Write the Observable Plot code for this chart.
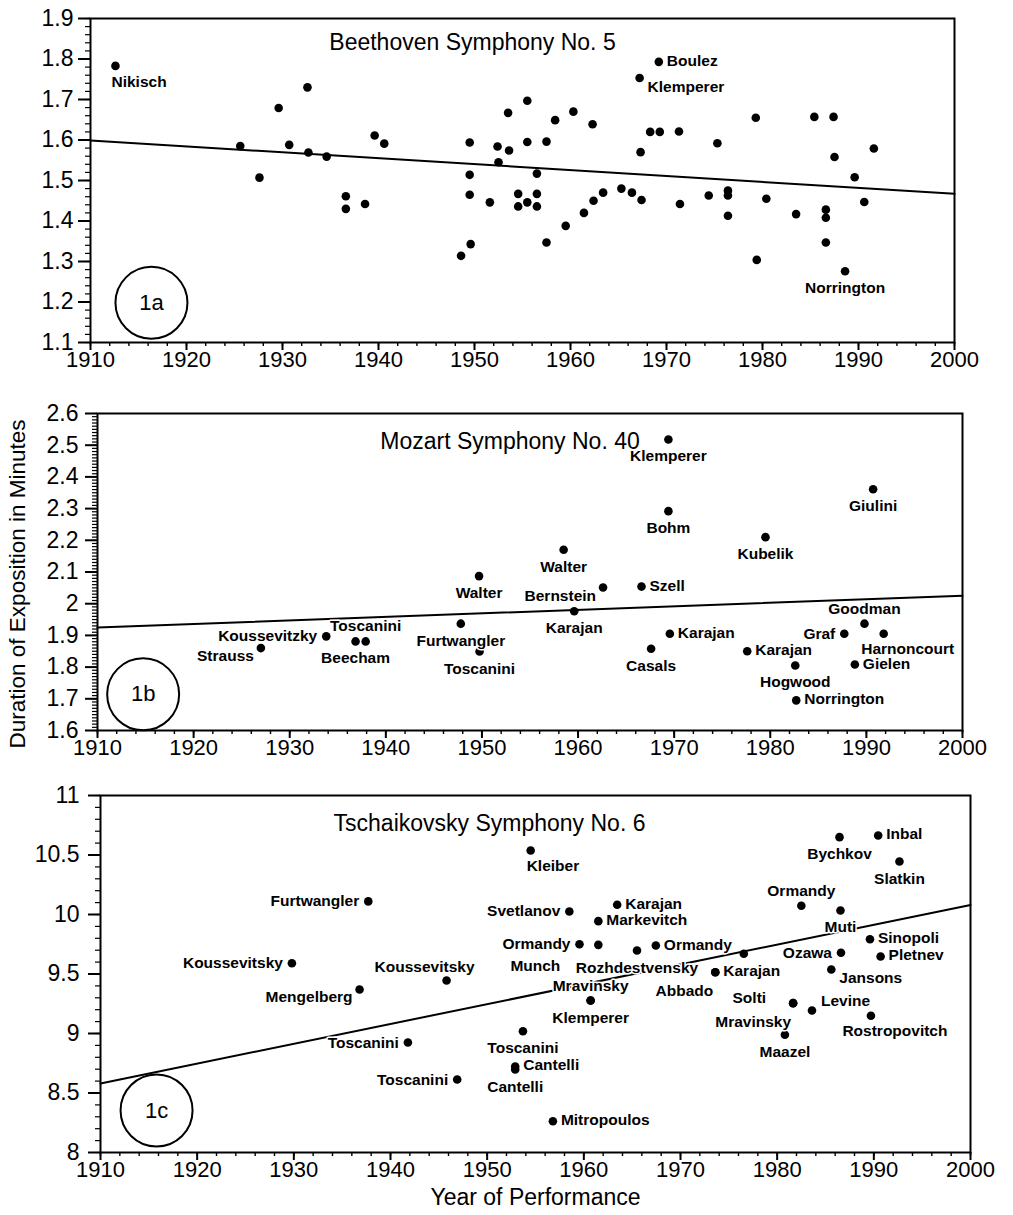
<!DOCTYPE html>
<html>
<head>
<meta charset="utf-8">
<script src="https://cdn.jsdelivr.net/npm/d3@7"></script>
<script src="https://cdn.jsdelivr.net/npm/@observablehq/plot@0.6"></script>
<style>
  body { margin: 0; background: #fff; }
  #wrap { position: relative; width: 1013px; height: 1215px; overflow: hidden; background: #fff; }
</style>
</head>
<body>
<div id="wrap"></div>
<script>
// ---------------- DATA ----------------
const yearTicks = [1910, 1920, 1930, 1940, 1950, 1960, 1970, 1980, 1990, 2000];
const beethovenTicks = [1.1, 1.2, 1.3, 1.4, 1.5, 1.6, 1.7, 1.8, 1.9];
const mozartTicks = [1.6, 1.7, 1.8, 1.9, 2.0, 2.1, 2.2, 2.3, 2.4, 2.5, 2.6];
const tchaikovskyTicks = [8, 8.5, 9, 9.5, 10, 10.5, 11];

const titles = ["Beethoven Symphony No. 5", "Mozart Symphony No. 40", "Tschaikovsky Symphony No. 6"];
const panelTags = ["1a", "1b", "1c"];
const yAxisTitle = "Duration of Exposition in Minutes";
const xAxisTitle = "Year of Performance";

// [year, minutes of exposition, conductor]
const beethoven = [
  [1912.6, 1.783, "Nikisch"], [1925.6, 1.585, ""], [1927.6, 1.507, ""], [1929.6, 1.679, ""],
  [1930.7, 1.588, ""], [1932.6, 1.730, ""], [1932.7, 1.569, ""], [1934.6, 1.559, ""],
  [1936.6, 1.461, ""], [1936.6, 1.430, ""], [1938.6, 1.442, ""], [1939.6, 1.611, ""],
  [1940.6, 1.591, ""], [1948.6, 1.314, ""], [1949.6, 1.343, ""], [1949.5, 1.594, ""],
  [1949.5, 1.514, ""], [1949.5, 1.465, ""], [1951.6, 1.446, ""], [1952.4, 1.584, ""],
  [1952.5, 1.545, ""], [1953.5, 1.667, ""], [1953.6, 1.574, ""], [1954.55, 1.467, ""],
  [1954.55, 1.436, ""], [1955.5, 1.697, ""], [1955.5, 1.595, ""], [1955.5, 1.446, ""],
  [1956.5, 1.517, ""], [1956.5, 1.467, ""], [1956.5, 1.436, ""], [1957.5, 1.596, ""],
  [1957.5, 1.347, ""], [1958.4, 1.649, ""], [1959.5, 1.388, ""], [1960.3, 1.670, ""],
  [1961.4, 1.420, ""], [1962.3, 1.639, ""], [1962.4, 1.450, ""], [1963.4, 1.470, ""],
  [1965.3, 1.480, ""], [1966.4, 1.470, ""], [1967.2, 1.753, "Klemperer"], [1967.3, 1.570, ""],
  [1967.4, 1.452, ""], [1968.3, 1.620, ""], [1969.2, 1.793, "Boulez"], [1969.3, 1.620, ""],
  [1971.3, 1.621, ""], [1971.4, 1.442, ""], [1974.4, 1.463, ""], [1975.3, 1.592, ""],
  [1976.4, 1.475, ""], [1976.4, 1.463, ""], [1976.4, 1.413, ""], [1979.3, 1.655, ""],
  [1979.4, 1.304, ""], [1980.4, 1.455, ""], [1983.5, 1.417, ""], [1985.4, 1.657, ""],
  [1986.6, 1.428, ""], [1986.6, 1.408, ""], [1986.6, 1.347, ""], [1987.4, 1.657, ""],
  [1987.5, 1.558, ""], [1988.6, 1.276, "Norrington"], [1989.6, 1.508, ""], [1990.6, 1.447, ""],
  [1991.6, 1.579, ""]
];
const beethovenTrend = [[1910, 1.599], [2000, 1.467]];

const mozart = [
  [1927.0, 1.860, "Strauss"], [1933.8, 1.897, "Koussevitzky"], [1936.85, 1.881, "Beecham"],
  [1937.9, 1.881, "Toscanini"], [1947.8, 1.937, "Furtwangler"], [1949.7, 2.087, "Walter"],
  [1949.75, 1.849, "Toscanini"], [1958.5, 2.170, "Walter"], [1959.6, 1.976, "Karajan"],
  [1962.6, 2.051, "Bernstein"], [1966.6, 2.054, "Szell"], [1969.4, 2.518, "Klemperer"],
  [1969.4, 2.292, "Bohm"], [1969.55, 1.905, "Karajan"], [1967.6, 1.858, "Casals"],
  [1977.6, 1.850, "Karajan"], [1979.5, 2.210, "Kubelik"], [1982.6, 1.805, "Hogwood"],
  [1982.7, 1.695, "Norrington"], [1987.7, 1.905, "Graf"], [1989.8, 1.937, "Goodman"],
  [1988.8, 1.808, "Gielen"], [1990.7, 2.361, "Giulini"], [1991.8, 1.905, "Harnoncourt"]
];
const mozartTrend = [[1910, 1.925], [2000, 2.025]];

const tchaikovsky = [
  [1937.7, 10.11, "Furtwangler"], [1929.8, 9.59, "Koussevitsky"], [1936.8, 9.37, "Mengelberg"],
  [1945.8, 9.445, "Koussevitsky"], [1941.8, 8.924, "Toscanini"], [1946.9, 8.613, "Toscanini"],
  [1954.5, 10.538, "Kleiber"], [1958.5, 10.025, "Svetlanov"], [1963.45, 10.082, "Karajan"],
  [1961.5, 9.944, "Markevitch"], [1959.55, 9.75, "Ormandy"], [1961.5, 9.745, "Munch"],
  [1965.5, 9.697, "Rozhdestvensky"], [1967.45, 9.739, "Ormandy"], [1976.55, 9.67, ""],
  [1973.6, 9.515, "Karajan"], [1973.6, 9.515, "Abbado"], [1960.7, 9.277, "Mravinsky"],
  [1960.7, 9.277, "Klemperer"], [1953.7, 9.019, "Toscanini"], [1952.9, 8.723, "Cantelli"],
  [1952.9, 8.697, "Cantelli"], [1956.8, 8.263, "Mitropoulos"], [1981.65, 9.255, "Solti"],
  [1981.65, 9.255, "Mravinsky"], [1980.8, 8.989, "Maazel"], [1983.6, 9.193, "Levine"],
  [1985.6, 9.538, "Jansons"], [1986.6, 9.678, "Ozawa"], [1986.55, 10.034, "Muti"],
  [1982.5, 10.073, "Ormandy"], [1986.45, 10.65, "Bychkov"], [1990.45, 10.664, "Inbal"],
  [1992.65, 10.445, "Slatkin"], [1989.6, 9.792, "Sinopoli"], [1990.7, 9.647, "Pletnev"],
  [1989.7, 9.149, "Rostropovitch"]
];
const tchaikovskyTrend = [[1910, 8.58], [2000, 10.08]];

// panel tag circle centres [year, minutes]
const tagCentres = [[1916.35, 1.198], [1914.75, 1.714], [1915.8, 8.353]];

// ---------------- LAYOUT ----------------
// label placement codes for the labelled points, in order of appearance
const beethovenSides = ["bs", "rb", "r", "b"];
const mozartSides = ["lb", "l", "b", "a", "b", "b", "b", "b", "b", "lb", "r", "b", "b", "r", "b",
  "r", "b", "b", "r", "l", "a", "r", "b", "bR"];
const tchaikovskySides = ["l", "l", "lb", "aL", "l", "l", "bs", "l", "r", "r", "l", "bw", "b", "r",
  "r", "bl", "a", "b", "b", "r", "b", "r", "lw", "bl", "b", "ra", "rb", "l", "b", "a", "b", "r",
  "b", "r", "r", "bR"];

const OFFS = {
  r: [8, -1, "start"], l: [-9, 0, "end"], b: [0, 17, "middle"], a: [0, -15, "middle"],
  rb: [8, 9, "start"], ra: [9, -10, "start"], lb: [-7, 8, "end"], bl: [-2, 19, "end"],
  bs: [-4, 16, "start"], bR: [24, 15, "middle"], aL: [-22, -14, "middle"],
  lw: [-27, -5, "end"], bw: [-38, 21, "end"]
};
const FONT = "'Liberation Sans', Arial, Helvetica, sans-serif";

function panel(cfg) {
  const rows = cfg.data.map(([year, minutes, conductor]) => ({year, minutes, conductor}));
  const labelled = rows.filter(d => d.conductor);
  labelled.forEach((d, i) => d.side = cfg.sides[i]);
  const fmt = d => String(+(+d).toFixed(1));
  const textMarks = Object.entries(OFFS).map(([code, [dx, dy, anchor]]) =>
    Plot.text(labelled.filter(d => d.side === code), {
      x: "year", y: "minutes", text: "conductor", dx, dy, textAnchor: anchor,
      fontSize: 15.5, fontWeight: "bold", fill: "black",
      stroke: "white", strokeWidth: 3, paintOrder: "stroke"
    }));
  const svg = Plot.plot({
    width: 1013, height: cfg.height,
    marginTop: cfg.mt, marginBottom: cfg.mb, marginLeft: cfg.ml, marginRight: cfg.mr,
    x: {domain: [1910, 2000]},
    y: {domain: cfg.yDomain},
    style: {background: "transparent", overflow: "visible", fontFamily: FONT, color: "black"},
    marks: [
      Plot.axisX({ticks: d3.range(1910, 2001, 2), tickSize: 4, tickFormat: () => "", label: null, strokeWidth: 1.4}),
      Plot.axisX({ticks: yearTicks, tickSize: 8, tickPadding: 1, tickFormat: d => String(d), fontSize: 22, label: null, strokeWidth: 2}),
      Plot.axisY({ticks: cfg.yMinor, tickSize: 5, tickFormat: () => "", label: null, strokeWidth: 1.2}),
      Plot.axisY({ticks: cfg.yTicks, tickSize: 12, tickPadding: cfg.yPad, tickFormat: fmt, fontSize: 23, label: null, strokeWidth: 2}),
      Plot.frame({stroke: "black", strokeWidth: 2}),
      Plot.line(cfg.trend, {x: d => d[0], y: d => d[1], stroke: "black", strokeWidth: 2}),
      Plot.dot([cfg.tagCentre], {x: d => d[0], y: d => d[1], r: 36, stroke: "black", strokeWidth: 2, fill: "none"}),
      Plot.text([cfg.tagCentre], {x: d => d[0], y: d => d[1], text: () => cfg.tag, fontSize: 22, fill: "black"}),
      Plot.text([cfg.title], {frameAnchor: "top", textAnchor: "middle", dx: cfg.titleDx, dy: cfg.titleDy, fontSize: 23, fill: "black"}),
      Plot.dot(rows, {x: "year", y: "minutes", r: 4.3, fill: "black", stroke: "none"}),
      ...textMarks,
      ...(cfg.extra || [])
    ]
  });
  svg.style.position = "absolute";
  svg.style.left = "0px";
  svg.style.top = cfg.top + "px";
  return svg;
}

const wrap = document.getElementById("wrap");

wrap.append(panel({
  data: beethoven, sides: beethovenSides, trend: beethovenTrend, tagCentre: tagCentres[0], tag: panelTags[0],
  title: titles[0], titleDx: -50, titleDy: 15,
  yDomain: [1.1, 1.9], yTicks: beethovenTicks, yMinor: d3.range(1.1, 1.9001, 0.02), yPad: 5,
  top: 0, height: 380, mt: 18, mb: 38, ml: 90, mr: 59
}));

wrap.append(panel({
  data: mozart, sides: mozartSides, trend: mozartTrend, tagCentre: tagCentres[1], tag: panelTags[1],
  title: titles[1], titleDx: -20, titleDy: 19,
  yDomain: [1.6, 2.6], yTicks: mozartTicks, yMinor: d3.range(1.6, 2.6001, 0.01), yPad: 7,
  top: 380, height: 385, mt: 33, mb: 35, ml: 97, mr: 51,
  extra: [
    Plot.text([yAxisTitle], {frameAnchor: "left", textAnchor: "middle", lineAnchor: "middle", rotate: -90, dx: -80, dy: 12, fontSize: 22.5, fill: "black"})
  ]
}));

wrap.append(panel({
  data: tchaikovsky, sides: tchaikovskySides, trend: tchaikovskyTrend, tagCentre: tagCentres[2], tag: panelTags[2],
  title: titles[2], titleDx: -46, titleDy: 19,
  yDomain: [8, 11], yTicks: tchaikovskyTicks, yMinor: d3.range(8, 11.0001, 0.1), yPad: 9,
  top: 765, height: 450, mt: 30, mb: 63, ml: 100, mr: 43,
  extra: [
    Plot.text([xAxisTitle], {frameAnchor: "bottom", textAnchor: "middle", dy: 52, fontSize: 23, fill: "black"})
  ]
}));
</script>
</body>
</html>
